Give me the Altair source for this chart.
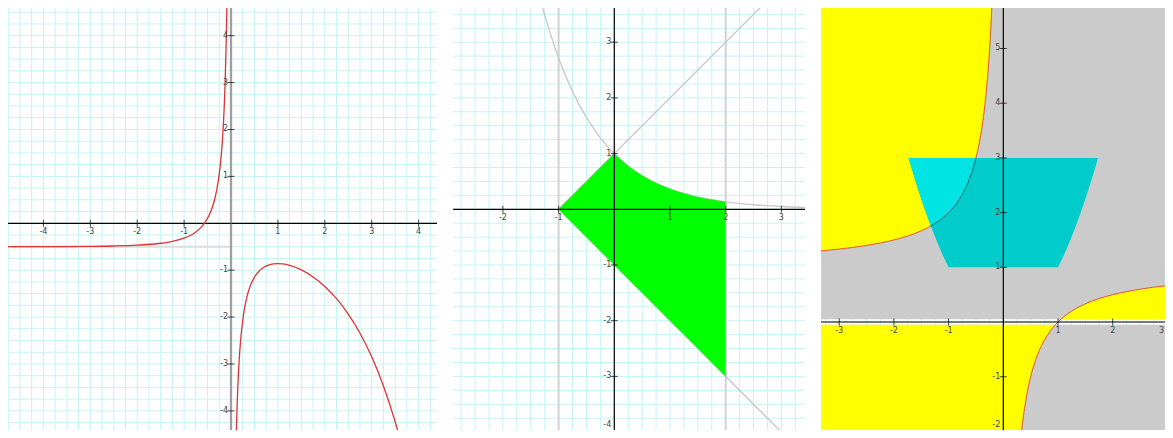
import math
import altair as alt
import pandas as pd

# ---------------- shared style ----------------
GRID_STEP = 0.25
GRID_COLOR = "#c4f4f4"
LABEL_COLOR = "#444444"
LABEL_FONT = "DejaVu Sans"
LABEL_SIZE = 8
H = 430
CROP = 8  # the right and bottom 8px of the drawing fall outside the window

# ---------------- panel 1 data ----------------
P1_W = 429
P1_XDOM = [-4.755, 4.392]
P1_YDOM = [-4.578, 4.59]
P1_LEFT_X = [-4.8, -4.0, -3.0, -2.5, -2.0, -1.5, -1.25, -1.0, -0.85, -0.75, -0.65, -0.57,
             -0.5, -0.45, -0.4, -0.35, -0.3, -0.25, -0.22, -0.2, -0.18, -0.16, -0.15,
             -0.14, -0.13, -0.12, -0.11, -0.1, -0.095, -0.09, -0.085]
P1_LEFT_Y = [-0.499, -0.498, -0.492, -0.484, -0.466, -0.426, -0.385, -0.316, -0.249, -0.185,
             -0.098, -0.004, 0.107, 0.208, 0.338, 0.507, 0.735, 1.058, 1.324, 1.547, 1.820,
             2.163, 2.369, 2.605, 2.877, 3.195, 3.572, 4.024, 4.286, 4.577, 4.903]
P1_RIGHT_X = [0.105, 0.11, 0.115, 0.13, 0.15, 0.175, 0.2, 0.25, 0.3, 0.35, 0.4, 0.5, 0.6, 0.7,
              0.8, 0.9, 1.0, 1.1, 1.25, 1.5, 1.75, 2.0, 2.25, 2.5, 2.75, 3.0, 3.25, 3.5, 3.6, 3.65]
P1_RIGHT_Y = [-4.789, -4.574, -4.378, -3.880, -3.373, -2.903, -2.554, -2.068, -1.750, -1.527,
              -1.365, -1.149, -1.018, -0.938, -0.891, -0.866, -0.859, -0.866, -0.896, -0.994,
              -1.144, -1.347, -1.608, -1.937, -2.344, -2.848, -3.468, -4.231, -4.583, -4.771]
P1_ASYMPTOTE_Y = -0.5
P1_XTICKS = [-4, -3, -2, -1, 1, 2, 3, 4]
P1_YTICKS = [-4, -3, -2, -1, 1, 2, 3, 4]

# ---------------- panel 2 data ----------------
P2_W = 352
P2_XDOM = [-2.896, 3.424]
P2_YDOM = [-4.106, 3.614]
P2_EXP_X = [-1.35, -1.25, -1.0, -0.75, -0.5, -0.25, 0.0, 0.25, 0.5, 0.75, 1.0, 1.25, 1.5, 1.75,
            2.0, 2.5, 3.0, 3.5]
P2_EXP_Y = [3.857, 3.490, 2.718, 2.117, 1.649, 1.284, 1.0, 0.779, 0.607, 0.472, 0.368, 0.287,
            0.223, 0.174, 0.135, 0.082, 0.050, 0.030]
P2_UP_X = [-1.0, 2.7]
P2_UP_Y = [0.0, 3.7]
P2_DOWN_X = [-1.0, 3.2]
P2_DOWN_Y = [0.0, -4.2]
P2_VLINES = [-1, 2]
P2_GREEN_L_X = [-1.0, 0.0]
P2_GREEN_L_LO = [0.0, -1.0]
P2_GREEN_L_HI = [0.0, 1.0]
P2_GREEN_R_X = [0.0, 0.25, 0.5, 0.75, 1.0, 1.25, 1.5, 1.75, 2.0]
P2_GREEN_R_LO = [-1.0, -1.25, -1.5, -1.75, -2.0, -2.25, -2.5, -2.75, -3.0]
P2_GREEN_R_HI = [1.0, 0.779, 0.607, 0.472, 0.368, 0.287, 0.223, 0.174, 0.135]
P2_XTICKS = [-2, -1, 1, 2, 3]
P2_YTICKS = [-4, -3, -2, -1, 1, 2, 3]

# ---------------- panel 3 data ----------------
P3_W = 352
P3_XDOM = [-3.333, 3.102]
P3_YDOM = [-2.12, 5.74]
P3_GAP = 0.05
P3_UP_X = [-3.4, -3.0, -2.5, -2.0, -1.75, -1.5, -1.25, -1.0, -0.9, -0.8, -0.7, -0.6, -0.5,
           -0.45, -0.4, -0.35, -0.3, -0.27, -0.25, -0.23, -0.21, -0.2]
P3_UP_Y = [1.294, 1.333, 1.4, 1.5, 1.571, 1.667, 1.8, 2.0, 2.111, 2.25, 2.429, 2.667, 3.0,
           3.222, 3.5, 3.857, 4.333, 4.704, 5.0, 5.348, 5.762, 6.0]
P3_LOW_X = [0.3, 0.32, 0.35, 0.4, 0.45, 0.5, 0.6, 0.7, 0.8, 0.9, 1.0, 1.25, 1.5, 1.75, 2.0,
            2.5, 3.0, 3.15]
P3_LOW_Y = [-2.333, -2.125, -1.857, -1.5, -1.222, -1.0, -0.667, -0.429, -0.25, -0.111, 0.0,
            0.2, 0.333, 0.429, 0.5, 0.6, 0.667, 0.683]
P3_BL_Y = [-2.333, -2.125, -1.857, -1.5, -1.222, -1.0, -0.667, -0.429, -0.25, -0.111, -0.05]
P3_BL_X = [0.3, 0.32, 0.35, 0.4, 0.45, 0.5, 0.6, 0.7, 0.8, 0.9, 0.952]
P3_RY_X = [1.053, 1.25, 1.5, 1.75, 2.0, 2.5, 3.0, 3.15]
P3_RY_Y = [0.05, 0.2, 0.333, 0.429, 0.5, 0.6, 0.667, 0.683]
P3_TRAP_Y = [1.0, 1.25, 1.5, 1.75, 2.0, 2.25, 2.5, 2.75, 3.0]
P3_TRAP_XL = [-1.0, -1.118, -1.225, -1.323, -1.414, -1.5, -1.581, -1.658, -1.732]
P3_TRAP_XR = [1.0, 1.118, 1.225, 1.323, 1.414, 1.5, 1.581, 1.658, 1.732]
P3_OVL_Y = [1.755, 1.8, 1.9, 2.0, 2.2, 2.4, 2.6, 2.8, 3.0]
P3_OVL_XL = [-1.325, -1.342, -1.378, -1.414, -1.483, -1.549, -1.612, -1.673, -1.732]
P3_OVL_XR = [-1.325, -1.25, -1.111, -1.0, -0.833, -0.714, -0.625, -0.556, -0.5]
P3_SEG_X = [-1.325, -1.25, -1.111, -1.0, -0.833, -0.714, -0.625, -0.556, -0.5]
P3_SEG_Y = [1.755, 1.8, 1.9, 2.0, 2.2, 2.4, 2.6, 2.8, 3.0]
P3_XTICKS = [-3, -2, -1, 1, 2, 3]
P3_YTICKS = [-2, -1, 1, 2, 3, 4, 5]


def grid_vals(lo, hi, step=GRID_STEP):
    return [i * step for i in range(math.ceil(lo / step), math.floor(hi / step) + 1)]


def sx(dom):
    return alt.Scale(domain=dom, nice=False, zero=False)


def X(field, dom):
    return alt.X(field, scale=sx(dom), axis=None)


def Y(field, dom):
    return alt.Y(field, scale=sx(dom), axis=None)


def grid_layers(xdom, ydom):
    gx = grid_vals(*xdom)
    gy = grid_vals(*ydom)
    dv = pd.DataFrame({"x": gx, "y0": [ydom[0]] * len(gx), "y1": [ydom[1]] * len(gx)})
    dh = pd.DataFrame({"y": gy, "x0": [xdom[0]] * len(gy), "x1": [xdom[1]] * len(gy)})
    v = alt.Chart(dv).mark_rule(color=GRID_COLOR, strokeWidth=1, clip=True).encode(
        x=X("x:Q", xdom), y=Y("y0:Q", ydom), y2="y1:Q")
    h = alt.Chart(dh).mark_rule(color=GRID_COLOR, strokeWidth=1, clip=True).encode(
        y=Y("y:Q", ydom), x=X("x0:Q", xdom), x2="x1:Q")
    return [v, h]


def line(xs, ys, xdom, ydom, color, width=1.0, interp="monotone"):
    df = pd.DataFrame({"x": xs, "y": ys})
    return alt.Chart(df).mark_line(color=color, strokeWidth=width, clip=True,
                                   interpolate=interp).encode(
        x=X("x:Q", xdom), y=Y("y:Q", ydom), order="x:Q")


def harea(ys, xl, xr, xdom, ydom, color):
    df = pd.DataFrame({"y": ys, "xl": xl, "xr": xr})
    return alt.Chart(df).mark_area(color=color, opacity=1, clip=True, interpolate="monotone",
                                   orient="horizontal").encode(
        y=Y("y:Q", ydom), x=X("xl:Q", xdom), x2="xr:Q")


def axes(xdom, ydom, xticks, yticks, width, vis_w, vis_h, xcolor="black", ycolor="black",
         ywidth=1.2):
    df_h = pd.DataFrame({"x0": [xdom[0]], "x1": [xdom[1]], "y": [0]})
    df_v = pd.DataFrame({"y0": [ydom[0]], "y1": [ydom[1]], "x": [0]})
    hx = alt.Chart(df_h).mark_rule(color=xcolor, strokeWidth=1.2, clip=True).encode(
        x=X("x0:Q", xdom), x2="x1:Q", y=Y("y:Q", ydom))
    vy = alt.Chart(df_v).mark_rule(color=ycolor, strokeWidth=ywidth, clip=True).encode(
        y=Y("y0:Q", ydom), y2="y1:Q", x=X("x:Q", xdom))
    dfx = pd.DataFrame({"v": xticks, "zero": [0] * len(xticks),
                        "lab": [str(t) for t in xticks]})
    dfy = pd.DataFrame({"v": yticks, "zero": [0] * len(yticks),
                        "lab": [str(t) for t in yticks]})
    tx = alt.Chart(dfx).mark_tick(orient="vertical", size=7, thickness=1, color="black").encode(
        x=X("v:Q", xdom), y=Y("zero:Q", ydom))
    ty = alt.Chart(dfy).mark_tick(orient="horizontal", size=7, thickness=1, color="black").encode(
        y=Y("v:Q", ydom), x=X("zero:Q", xdom))
    layers = [hx, vy, tx, ty]
    txt = dict(font=LABEL_FONT, fontSize=LABEL_SIZE, color=LABEL_COLOR)
    # x labels: those that would fall past the visible right edge are pulled inside
    for t, lab in zip(xticks, dfx["lab"]):
        px = (t - xdom[0]) / (xdom[1] - xdom[0]) * width
        d = pd.DataFrame({"v": [t], "zero": [0], "lab": [lab]})
        if px + 5 > vis_w:
            m = alt.Chart(d).mark_text(baseline="top", dy=5, align="right",
                                       dx=vis_w - 1 - px, **txt)
        else:
            m = alt.Chart(d).mark_text(baseline="top", dy=5, **txt)
        layers.append(m.encode(x=X("v:Q", xdom), y=Y("zero:Q", ydom), text="lab:N"))
    for t, lab in zip(yticks, dfy["lab"]):
        py = (ydom[1] - t) / (ydom[1] - ydom[0]) * H
        d = pd.DataFrame({"v": [t], "zero": [0], "lab": [lab]})
        if py + 5 > vis_h:
            m = alt.Chart(d).mark_text(align="right", baseline="bottom", dx=-3,
                                       dy=vis_h - 1 - py, **txt)
        else:
            m = alt.Chart(d).mark_text(align="right", baseline="middle", dx=-3, **txt)
        layers.append(m.encode(y=Y("v:Q", ydom), x=X("zero:Q", xdom), text="lab:N"))
    return layers


# ---------------- panel 1 ----------------
d1, e1 = P1_XDOM, P1_YDOM
asym_h = alt.Chart(pd.DataFrame({"x0": [d1[0]], "x1": [0], "y": [P1_ASYMPTOTE_Y]})).mark_rule(
    color="#dcdcdc", strokeWidth=2, clip=True).encode(
    x=X("x0:Q", d1), x2="x1:Q", y=Y("y:Q", e1))
asym_v = alt.Chart(pd.DataFrame({"y0": [e1[0]], "y1": [e1[1]], "x": [0]})).mark_rule(
    color="#c8c8c8", strokeWidth=2.5, clip=True).encode(
    y=Y("y0:Q", e1), y2="y1:Q", x=X("x:Q", d1))
p1_axes = axes(d1, e1, P1_XTICKS, P1_YTICKS, P1_W, P1_W, H - CROP, ycolor="#777777", ywidth=1)
p1 = alt.layer(
    *grid_layers(d1, e1), asym_h, asym_v, *p1_axes[:2],
    line(P1_LEFT_X, P1_LEFT_Y, d1, e1, "#dd3333", 1.3),
    line(P1_RIGHT_X, P1_RIGHT_Y, d1, e1, "#dd3333", 1.3),
    *p1_axes[2:],
).properties(width=P1_W, height=H)

# ---------------- panel 2 ----------------
d2, e2 = P2_XDOM, P2_YDOM
vl = alt.Chart(pd.DataFrame({"x": P2_VLINES, "y0": [e2[0]] * 2, "y1": [e2[1]] * 2})).mark_rule(
    color="#d2d2d2", strokeWidth=2, clip=True).encode(
    x=X("x:Q", d2), y=Y("y0:Q", e2), y2="y1:Q")
gl = alt.Chart(pd.DataFrame({"x": P2_GREEN_L_X, "lo": P2_GREEN_L_LO, "hi": P2_GREEN_L_HI})).mark_area(
    color="#00ff00", opacity=1, clip=True).encode(
    x=X("x:Q", d2), y=Y("lo:Q", e2), y2="hi:Q")
gr = alt.Chart(pd.DataFrame({"x": P2_GREEN_R_X, "lo": P2_GREEN_R_LO, "hi": P2_GREEN_R_HI})).mark_area(
    color="#00ff00", opacity=1, clip=True, interpolate="monotone").encode(
    x=X("x:Q", d2), y=Y("lo:Q", e2), y2="hi:Q")
p2 = alt.layer(
    *grid_layers(d2, e2), vl,
    line(P2_EXP_X, P2_EXP_Y, d2, e2, "#c8c8c8", 1.3),
    line(P2_UP_X, P2_UP_Y, d2, e2, "#c8c8c8", 1.3, "linear"),
    line(P2_DOWN_X, P2_DOWN_Y, d2, e2, "#c8c8c8", 1.3, "linear"),
    gl, gr,
    *axes(d2, e2, P2_XTICKS, P2_YTICKS, P2_W, P2_W, H - CROP),
).properties(width=P2_W, height=H)

# ---------------- panel 3 ----------------
d3, e3 = P3_XDOM, P3_YDOM
bg = alt.Chart(pd.DataFrame({"y0": [P3_GAP, e3[0]], "y1": [e3[1], -P3_GAP],
                             "x0": [d3[0]] * 2, "x1": [d3[1]] * 2})).mark_rect(
    color="#cbcbcb", opacity=1).encode(
    x=X("x0:Q", d3), x2="x1:Q", y=Y("y0:Q", e3), y2="y1:Q")
ya = alt.Chart(pd.DataFrame({"x": P3_UP_X, "y": P3_UP_Y,
                             "top": [e3[1] + 1] * len(P3_UP_X)})).mark_area(
    color="#ffff00", opacity=1, clip=True, interpolate="monotone").encode(
    x=X("x:Q", d3), y=Y("y:Q", e3), y2="top:Q")
yb = harea(P3_BL_Y, [d3[0] - 1] * len(P3_BL_Y), P3_BL_X, d3, e3, "#ffff00")
yc = alt.Chart(pd.DataFrame({"x": P3_RY_X, "y": P3_RY_Y, "b": [P3_GAP] * len(P3_RY_X)})).mark_area(
    color="#ffff00", opacity=1, clip=True, interpolate="monotone").encode(
    x=X("x:Q", d3), y=Y("y:Q", e3), y2="b:Q")
trap = harea(P3_TRAP_Y, P3_TRAP_XL, P3_TRAP_XR, d3, e3, "#00cccc")
ovl = harea(P3_OVL_Y, P3_OVL_XL, P3_OVL_XR, d3, e3, "#00e4e4")
p3 = alt.layer(
    *grid_layers(d3, e3), bg, ya, yb, yc,
    line(P3_UP_X, P3_UP_Y, d3, e3, "#e0553a", 1.0),
    line(P3_LOW_X, P3_LOW_Y, d3, e3, "#e0553a", 1.0),
    trap, ovl,
    line(P3_SEG_X, P3_SEG_Y, d3, e3, "#1f5f5f", 1.0),
    *axes(d3, e3, P3_XTICKS, P3_YTICKS, P3_W, P3_W - CROP, H - CROP),
).properties(width=P3_W, height=H)

chart = alt.hconcat(p1, p2, p3, spacing=16).properties(
    padding={"left": 0, "top": 0, "right": -CROP, "bottom": -CROP}
).configure_view(stroke=None)
chart.save("out.html", embed_options={"renderer": "svg", "actions": False})
